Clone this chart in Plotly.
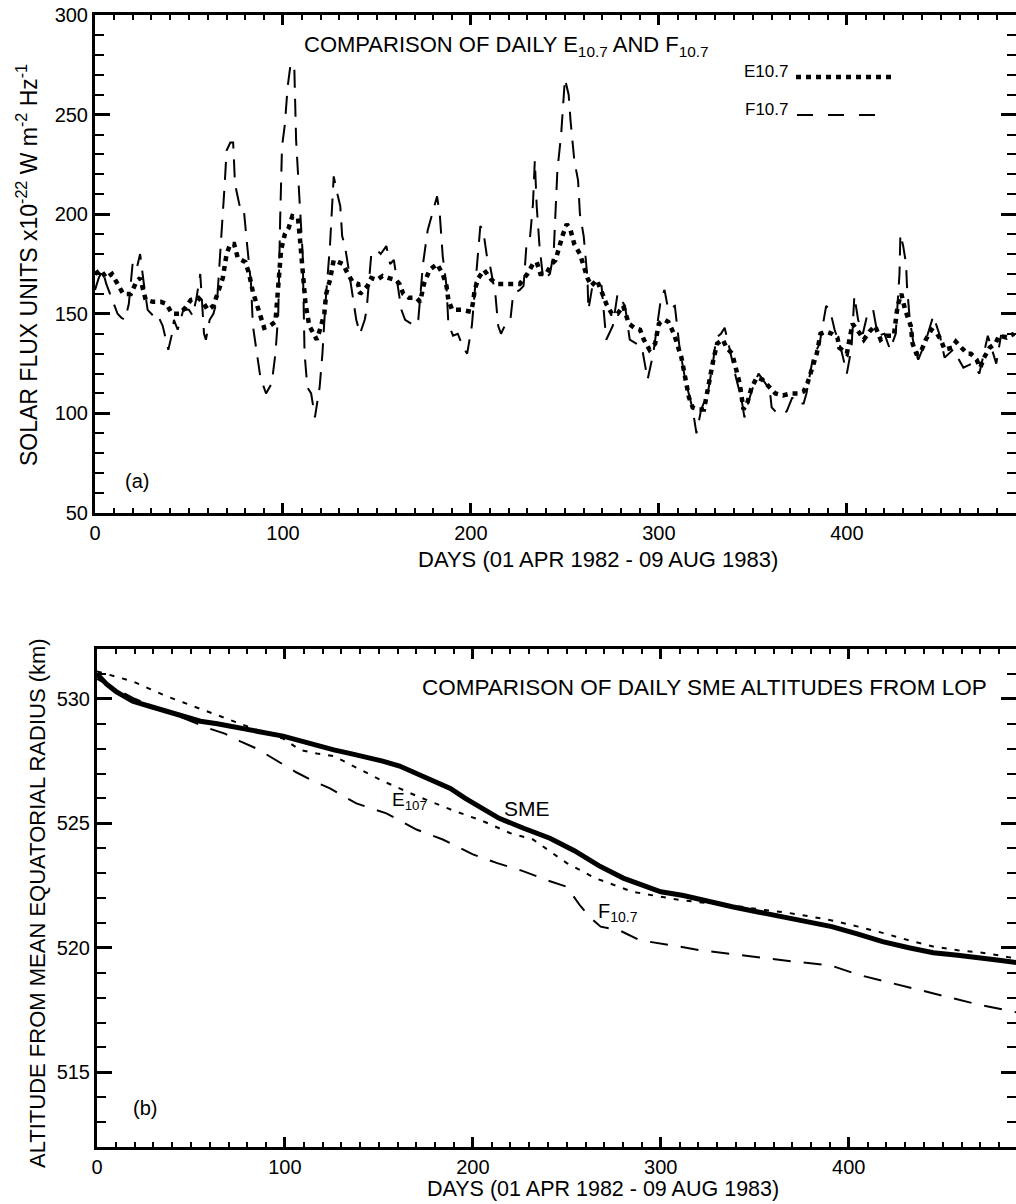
import plotly.graph_objects as go

# ---------------- Panel (a): daily E10.7 and F10.7 ----------------
e107_days = [0, 3, 6, 9, 12, 15, 19, 22, 24, 27, 31, 35, 38, 41, 45, 48, 51, 55, 58, 60,
             63, 66, 68, 70, 72, 74, 76, 80, 82, 84, 86, 88, 90, 93, 96, 97, 99, 101, 103, 105,
             108, 109, 110, 112, 114, 116, 118, 120, 122, 123, 125, 127, 130, 132, 134, 137, 140, 141, 145, 147,
             150, 153, 156, 160, 162, 164, 167, 171, 173, 175, 178, 182, 185, 187, 188, 190, 195, 200, 201, 202,
             204, 207, 211, 214, 218, 222, 226, 230, 233, 235, 237, 240, 243, 245, 247, 249, 251, 253, 255, 258,
             260, 262, 264, 267, 270, 272, 275, 278, 281, 284, 287, 290, 292, 295, 298, 300, 303, 305, 308, 310,
             312, 314, 316, 318, 321, 324, 325, 327, 329, 331, 334, 336, 339, 341, 343, 345, 347, 349, 352, 355,
             359, 362, 366, 370, 374, 377, 379, 382, 384, 386, 389, 392, 395, 396, 400, 402, 403, 407, 409, 412,
             415, 418, 421, 425, 427, 429, 431, 434, 435, 437, 439, 442, 445, 448, 450, 452, 456, 458, 461, 464,
             466, 469, 471, 473, 476, 479, 481, 485, 489]
e107_vals = [170, 172, 168, 170, 165, 160, 160, 166, 168, 157, 156, 156, 155, 150, 150, 153, 157, 158, 155, 152,
             154, 162, 168, 180, 185, 185, 178, 176, 170, 161, 154, 149, 143, 144, 146, 160, 182, 190, 193, 199,
             198, 188, 175, 155, 144, 140, 137, 143, 150, 160, 167, 177, 176, 175, 171, 166, 165, 160, 164, 168,
             167, 169, 168, 167, 165, 160, 158, 158, 156, 165, 172, 175, 170, 164, 157, 152, 152, 151, 155, 162,
             168, 172, 167, 165, 165, 165, 165, 170, 175, 176, 170, 170, 175, 177, 184, 190, 195, 192, 185, 180,
             174, 168, 164, 167, 160, 155, 150, 150, 154, 145, 143, 142, 137, 132, 135, 145, 147, 146, 140, 133,
             128, 118, 108, 103, 102, 102, 108, 117, 127, 135, 137, 133, 130, 123, 115, 102, 105, 112, 118, 117,
             113, 110, 109, 110, 110, 111, 115, 123, 130, 140, 141, 140, 138, 133, 130, 140, 145, 140, 137, 141,
             144, 137, 139, 139, 154, 160, 152, 144, 135, 130, 130, 137, 142, 140, 137, 132, 133, 136, 133, 130,
             130, 127, 123, 128, 133, 135, 139, 138, 140]

f107_days = [0, 2, 4, 6, 8, 10, 12, 14, 16, 18, 20, 22, 24, 26, 28, 31, 33, 36, 39, 41,
             42, 44, 47, 50, 52, 54, 56, 58, 59, 61, 63, 65, 67, 68, 69, 70, 72, 73.5, 74.5, 77,
             79, 81, 83, 84, 86, 88, 91, 94, 96, 97.5, 98.5, 99.5, 101, 102.5, 104, 106, 107, 108, 109, 110.5,
             111.5, 113, 115, 117, 119.5, 121, 122.5, 125, 126, 127, 129, 130.5, 131.5, 133, 135, 137, 139, 141, 143.5, 144.5,
             147, 150, 152, 155, 157, 159, 160.5, 163, 165, 168, 170, 172, 174.5, 177, 180, 182, 183.5, 185, 187, 188,
             190.5, 193, 196, 198, 200.5, 202, 205, 206.5, 208.5, 210, 213, 214.5, 216, 218, 221, 222.5, 226, 228, 229.5, 231.5,
             233, 234, 235, 236.5, 238.5, 242, 244, 246, 248, 250, 252, 253, 255, 257, 258, 260, 262, 262.5, 265, 269.5,
             272, 275.5, 278, 282, 284.5, 288, 291, 294, 297, 301, 303, 305, 308.5, 311, 314, 318, 320, 322.5, 326, 329,
             330.5, 333, 335, 337.5, 341, 344, 345.5, 348, 350, 353, 356, 359, 360, 363, 366, 368, 371, 373, 377, 378.5,
             382, 385.5, 389, 391, 393.5, 397, 400, 402.5, 404, 406, 408.5, 411, 414, 416.5, 420, 423, 426, 427, 428, 428.5,
             430, 431.5, 432, 433.5, 436, 438, 441.5, 446, 449.5, 452, 456.5, 459, 462, 466.5, 470.5, 475, 479.5, 482, 487]
f107_vals = [162, 168, 172, 165, 160, 155, 150, 148, 147, 155, 175, 172, 180, 165, 152, 149, 150, 144, 132, 140,
             147, 142, 152, 152, 149, 158, 170, 140, 137, 147, 150, 157, 185, 197, 215, 232, 236, 236, 215, 204,
             204, 184, 165, 144, 132, 118, 110, 115, 130, 150, 197, 234, 245, 264, 275, 275, 237, 217, 204, 180,
             130, 113, 110, 98, 113, 130, 154, 184, 204, 219, 210, 204, 189, 184, 172, 160, 147, 140, 147, 152,
             180, 182, 180, 184, 175, 177, 167, 152, 147, 145, 144, 147, 175, 192, 202, 209, 199, 179, 164, 145,
             139, 140, 133, 130, 144, 162, 194, 192, 179, 175, 160, 144, 140, 144, 147, 160, 162, 164, 184, 189,
             205, 227, 204, 184, 167, 170, 180, 222, 240, 268, 260, 247, 227, 217, 200, 189, 168, 152, 166, 164,
             137, 144, 160, 154, 137, 135, 133, 117, 130, 157, 162, 152, 154, 133, 117, 102, 90, 102, 110, 127,
             138, 140, 143, 133, 118, 107, 98, 107, 113, 120, 116, 112, 103, 100, 100, 101, 108, 105, 105, 110,
             128, 135, 154, 152, 142, 132, 120, 133, 159, 147, 140, 150, 152, 139, 140, 132, 140, 155, 170, 190,
             184, 175, 164, 147, 132, 127, 135, 149, 139, 128, 132, 128, 123, 125, 120, 139, 125, 139, 139]

# ---------------- Panel (b): daily SME altitudes from LOP ----------------
sme_days = [0, 5, 10, 19, 28, 37, 46, 55, 64, 72, 85, 99, 108, 117, 126, 135, 144, 152, 161, 170,
            179, 188, 196, 205, 214, 227, 241, 254, 267, 280, 290, 300, 312, 325, 338, 351, 365, 378, 391, 405,
            418, 432, 445, 458, 471, 480, 490]
sme_alt = [531.0, 530.6, 530.3, 529.9, 529.7, 529.5, 529.3, 529.1, 529.0, 528.9, 528.7, 528.5, 528.3, 528.1, 527.95,
           527.8, 527.65, 527.5, 527.3, 527.0, 526.7, 526.4, 526.0, 525.6, 525.2, 524.8, 524.4, 523.9, 523.3, 522.8,
           522.5, 522.25, 522.1, 521.85, 521.65, 521.45, 521.25, 521.05, 520.85, 520.55, 520.25, 520.0, 519.8, 519.7,
           519.6, 519.5, 519.4]

e_alt_days = [0, 10, 19, 28, 37, 46, 55, 64, 72, 85, 99, 108, 117, 126, 135, 143, 152, 161, 170, 180,
              190, 205, 220, 232, 250, 265, 285, 300, 312, 325, 338, 352, 368, 380, 391, 405, 418, 432, 445, 458,
              471, 480, 490]
e_alt = [531.1, 530.9, 530.7, 530.4, 530.1, 529.85, 529.6, 529.35, 529.1, 528.75, 528.4, 527.95, 527.8, 527.7,
         527.35, 527.05, 526.7, 526.4, 526.1, 525.8, 525.5, 525.1, 524.6, 524.35, 523.4, 522.8, 522.25, 522.05,
         521.9, 521.8, 521.7, 521.55, 521.4, 521.25, 521.1, 520.85, 520.6, 520.3, 520.05, 519.9, 519.8, 519.7, 519.55]

f_alt_days = [0, 10, 20, 30, 40, 50, 60, 68, 76, 85, 94, 106, 115, 124, 138, 154, 170, 184, 200, 213,
              226, 240, 250, 257, 262, 268, 278, 289, 306, 321, 338, 354, 370, 390, 406, 422, 438, 454, 470, 490]
f_alt = [530.8, 530.4, 530.0, 529.7, 529.4, 529.1, 528.8, 528.6, 528.3, 528.0, 527.6, 527.05, 526.7, 526.4,
         525.8, 525.4, 524.75, 524.35, 523.75, 523.4, 523.1, 522.7, 522.45, 521.7, 521.25, 520.85, 520.7, 520.3,
         520.1, 519.9, 519.75, 519.6, 519.45, 519.3, 518.9, 518.6, 518.3, 518.0, 517.7, 517.4]

W, H = 1016, 1204
FONT = "Liberation Sans, Arial, Helvetica, sans-serif"


def px(x):
    return x / W


def py(y):
    return 1 - y / H


fig = go.Figure()

fig.add_trace(go.Scatter(x=f107_days, y=f107_vals, mode="lines", xaxis="x", yaxis="y",
                         line=dict(color="black", width=2, dash="18px,11px"), name="F10.7"))
fig.add_trace(go.Scatter(x=e107_days, y=e107_vals, mode="lines", xaxis="x", yaxis="y",
                         line=dict(color="black", width=4.5, dash="5px,5px"), name="E10.7"))

fig.add_trace(go.Scatter(x=f_alt_days, y=f_alt, mode="lines", xaxis="x2", yaxis="y2",
                         line=dict(color="black", width=2, dash="18px,13px"), name="F10.7 alt"))
fig.add_trace(go.Scatter(x=e_alt_days, y=e_alt, mode="lines", xaxis="x2", yaxis="y2",
                         line=dict(color="black", width=2, dash="5px,8px"), name="E10.7 alt"))
fig.add_trace(go.Scatter(x=sme_days, y=sme_alt, mode="lines", xaxis="x2", yaxis="y2",
                         line=dict(color="black", width=5), name="SME"))

tickfont = dict(family=FONT, size=20, color="black")
common_x = dict(range=[0, 490], dtick=100, tick0=0, ticks="inside", ticklen=10, tickwidth=2.5,
                tickcolor="black", showline=True, linewidth=3, linecolor="black", mirror="allticks",
                showgrid=False, zeroline=False, tickfont=tickfont, automargin=False,
                minor=dict(dtick=10, ticks="inside", ticklen=5, tickwidth=2, tickcolor="black"))

fig.update_layout(
    template="none",
    width=W, height=H, autosize=False,
    margin=dict(l=0, r=0, t=0, b=0, pad=0, autoexpand=False),
    paper_bgcolor="white", plot_bgcolor="white",
    showlegend=False,
    font=dict(family=FONT, color="black"),
    xaxis=dict(domain=[px(95), 1.0], anchor="y", **common_x),
    yaxis=dict(domain=[py(513), py(15)], anchor="x", range=[50, 300], dtick=50, tick0=50,
               ticks="inside", ticklen=15, tickwidth=2.5, tickcolor="black",
               showline=True, linewidth=3, linecolor="black", mirror="allticks",
               showgrid=False, zeroline=False, tickfont=tickfont, automargin=False,
               minor=dict(dtick=10, ticks="inside", ticklen=9, tickwidth=2, tickcolor="black")),
    xaxis2=dict(domain=[px(97), 1.0], anchor="y2", **common_x),
    yaxis2=dict(domain=[py(1147), py(649)], anchor="x2", range=[512, 532], dtick=5, tick0=515,
                ticks="inside", ticklen=15, tickwidth=2.5, tickcolor="black",
                showline=True, linewidth=3, linecolor="black", mirror="allticks",
                showgrid=False, zeroline=False, tickfont=tickfont, automargin=False,
                minor=dict(dtick=1, ticks="inside", ticklen=9, tickwidth=2, tickcolor="black")),
)
fig.update_layout(xaxis2_range=[0, 489])

ann = []


def add_text(text, x, y, size, xanchor="center", yanchor="middle", angle=0):
    ann.append(dict(text=text, x=px(x), y=py(y), xref="paper", yref="paper", showarrow=False,
                    xanchor=xanchor, yanchor=yanchor, textangle=angle,
                    font=dict(family=FONT, size=size, color="black")))


# panel (a) texts
add_text("COMPARISON OF DAILY E<sub>10.7</sub> AND F<sub>10.7</sub>", 506, 46, 22)
add_text("E10.7", 790, 72, 17, xanchor="right")
add_text("F10.7", 790, 110, 17, xanchor="right")
add_text("(a)", 137, 481, 20)
add_text("DAYS (01 APR 1982 - 09 AUG 1983)", 598, 559, 22)
add_text("SOLAR FLUX UNITS x10<sup>-22</sup> W m<sup>-2</sup> Hz<sup>-1</sup>", 27, 265, 23, angle=-90)

# panel (b) texts
add_text("COMPARISON OF DAILY SME ALTITUDES FROM LOP", 989, 687, 22.5, xanchor="right")
add_text("E<sub>107</sub>", 390, 801, 19, xanchor="left")
add_text("SME", 527, 808, 21)
add_text("F<sub>10.7</sub>", 596, 912, 20, xanchor="left")
add_text("(b)", 145, 1108, 20)
add_text("DAYS (01 APR 1982 - 09 AUG 1983)", 603, 1189, 21.5)
add_text("ALTITUDE FROM MEAN EQUATORIAL RADIUS (km)", 37, 903, 22, angle=-90)

fig.update_layout(annotations=ann)

# legend samples for panel (a)
fig.update_layout(shapes=[
    dict(type="line", xref="paper", yref="paper", x0=px(796), x1=px(892), y0=py(77), y1=py(77),
         line=dict(color="black", width=4.5, dash="5px,5px")),
    dict(type="line", xref="paper", yref="paper", x0=px(797), x1=px(884), y0=py(115), y1=py(115),
         line=dict(color="black", width=2, dash="16px,15px")),
])

fig.write_html("out.html", config={"displayModeBar": False, "responsive": False},
               post_script="document.body.style.margin='0';document.body.style.overflow='hidden';")
